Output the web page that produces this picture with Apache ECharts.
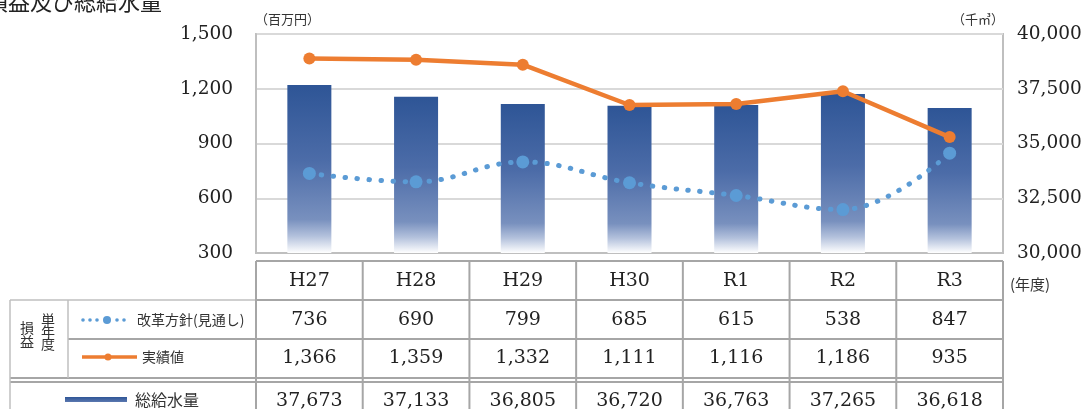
<!DOCTYPE html>
<html><head><meta charset="utf-8">
<script src="https://cdn.jsdelivr.net/npm/echarts@6/dist/echarts.min.js"></script>
<style>html,body{margin:0;padding:0;background:#fff}#c{width:1088px;height:409px}</style>
</head><body><div id="c"></div>
<script>
// 年度別データ
const years = ['H27', 'H28', 'H29', 'H30', 'R1', 'R2', 'R3'];
const planProfit = [736, 690, 799, 685, 615, 538, 847];          // 改革方針(見通し) 百万円
const actualProfit = [1366, 1359, 1332, 1111, 1116, 1186, 935];  // 実績値 百万円
const waterSupply = [37673, 37133, 36805, 36720, 36763, 37265, 36618]; // 総給水量 千㎥
const profitAxis = { min: 300, max: 1500, interval: 300 };
const waterAxis = { min: 30000, max: 40000, interval: 2500 };

const SERIF = '"DejaVu Serif", serif';
const SANS = '"Noto Sans CJK JP", "Noto Sans", sans-serif';
const GRID_L = 256, GRID_R = 1003, GRID_T = 34, GRID_B = 253;
const LINE = '#A6A6A6';
const fmt = v => v.toLocaleString('en-US');

const chart = echarts.init(document.getElementById('c'), null, { renderer: 'canvas' });

const barGradient = new echarts.graphic.LinearGradient(0, 0, 0, 1, [
  { offset: 0, color: '#2E5596' },
  { offset: 0.45, color: '#4C6CA8' },
  { offset: 0.8, color: '#7890BE' },
  { offset: 0.9, color: '#B3C1DC' },
  { offset: 1, color: '#FFFFFF' }
]);

chart.setOption({
  animation: false,
  grid: {
    left: GRID_L, right: 1088 - GRID_R, top: GRID_T, bottom: 409 - GRID_B,
    show: true, borderColor: '#BFBFBF', borderWidth: 2, containLabel: false
  },
  xAxis: {
    type: 'category', data: years,
    axisLine: { show: true, lineStyle: { color: '#BFBFBF', width: 2 } },
    axisTick: { show: false }, axisLabel: { show: false }, splitLine: { show: false }
  },
  yAxis: [
    {
      type: 'value', min: profitAxis.min, max: profitAxis.max, interval: profitAxis.interval,
      axisLine: { show: true, lineStyle: { color: '#BFBFBF', width: 2 } },
      axisTick: { show: false },
      axisLabel: { margin: 23, color: '#222', fontFamily: SERIF, fontSize: 18.5, formatter: v => fmt(v) },
      splitLine: { lineStyle: { color: '#D9D9D9', width: 2 } }
    },
    {
      type: 'value', min: waterAxis.min, max: waterAxis.max, interval: waterAxis.interval,
      position: 'right',
      axisLine: { show: false }, axisTick: { show: false },
      axisLabel: { margin: 14, color: '#222', fontFamily: SERIF, fontSize: 18.5, formatter: v => fmt(v) },
      splitLine: { show: false }
    }
  ],
  series: [
    {
      name: '総給水量', type: 'bar', yAxisIndex: 1, data: waterSupply,
      barWidth: 44, itemStyle: { color: barGradient }, z: 1
    },
    {
      name: '改革方針(見通し)', type: 'line', yAxisIndex: 0, data: planProfit,
      smooth: 0.4, symbol: 'circle', symbolSize: 13,
      itemStyle: { color: '#5B9BD5' },
      lineStyle: { color: '#5B9BD5', width: 5, type: [0.5, 11.5], cap: 'round' },
      z: 3
    },
    {
      name: '実績値', type: 'line', yAxisIndex: 0, data: actualProfit,
      symbol: 'circle', symbolSize: 12,
      itemStyle: { color: '#ED7D31' },
      lineStyle: { color: '#ED7D31', width: 4.5 },
      z: 4
    }
  ]
});

// データ表と見出し
function buildTable() {
  const g = [];
  const line = (x1, y1, x2, y2, color, w) => g.push({
    type: 'line', shape: { x1, y1, x2, y2 }, style: { stroke: color || LINE, lineWidth: w || 2 }, silent: true
  });
  const text = (x, y, s, opt) => g.push({
    type: 'text', x, y, silent: true,
    style: Object.assign({ text: s, fill: '#222', font: '19px ' + SERIF, textAlign: 'center', textVerticalAlign: 'middle' }, opt || {})
  });

  const colW = (GRID_R - GRID_L) / years.length;

  // 表の罫線
  line(GRID_L, 261, GRID_R, 261);
  line(GRID_L, 300, GRID_R, 300);
  line(10, 300, GRID_L, 300, '#BFBFBF', 1.5);
  line(68, 339, GRID_R, 339);
  line(10, 378, GRID_R, 378);
  line(10, 382, GRID_R, 382);
  line(GRID_L, 261, GRID_L, 412);
  line(GRID_R, 261, GRID_R, 412);
  for (let k = 1; k < years.length; k++) line(GRID_L + colW * k, 261, GRID_L + colW * k, 412);
  line(10, 300, 10, 412, '#BFBFBF', 1.5);
  line(68, 300, 68, 378, '#BFBFBF', 1.5);

  // 年度と数値
  years.forEach((y, i) => {
    const cx = chart.convertToPixel({ xAxisIndex: 0 }, y);
    text(cx, 281, y);
    text(cx, 320, fmt(planProfit[i]));
    text(cx, 358, fmt(actualProfit[i]));
    text(cx, 401, fmt(waterSupply[i]));
  });

  // 行見出し
  [['損', 27, 328], ['益', 27, 342], ['単', 48, 320], ['年', 48, 332], ['度', 48, 344]].forEach(([s, x, y]) =>
    text(x, y, s, { font: '14px ' + SANS, fill: '#333' }));

  // 凡例記号
  [83, 90, 97, 117, 124].forEach(x => g.push({ type: 'circle', shape: { cx: x, cy: 320, r: 1.8 }, style: { fill: '#5B9BD5' }, silent: true }));
  g.push({ type: 'circle', shape: { cx: 107, cy: 320, r: 4 }, style: { fill: '#5B9BD5' }, silent: true });
  line(82, 357, 137, 357, '#ED7D31', 3.5);
  g.push({ type: 'circle', shape: { cx: 108, cy: 357, r: 3.5 }, style: { fill: '#ED7D31' }, silent: true });
  g.push({
    type: 'rect', shape: { x: 65, y: 397, width: 62, height: 5 }, silent: true,
    style: { fill: new echarts.graphic.LinearGradient(0, 0, 0, 1, [{ offset: 0, color: '#2E5596' }, { offset: 1, color: '#5B78B0' }]) }
  });
  text(137, 320, '改革方針(見通し)', { font: '14px ' + SANS, textAlign: 'left', fill: '#333' });
  text(142, 357, '実績値', { font: '14px ' + SANS, textAlign: 'left', fill: '#333' });
  text(135, 400, '総給水量', { font: '16px ' + SANS, textAlign: 'left', fill: '#333' });

  // 単位とタイトル
  text(255, 19, '（百万円）', { font: '13px ' + SANS, textAlign: 'left', fill: '#333' });
  text(1004, 19, '（千㎥）', { font: '13px ' + SANS, textAlign: 'right', fill: '#333' });
  text(1030, 284, '(年度)', { font: '15px ' + SANS, textAlign: 'center', fill: '#333' });
  text(-14, 2, '損益及び総給水量', { font: '22px ' + SANS, textAlign: 'left', fill: '#222' });

  chart.setOption({ graphic: { elements: g } });
}
buildTable();
</script>
</body></html>
